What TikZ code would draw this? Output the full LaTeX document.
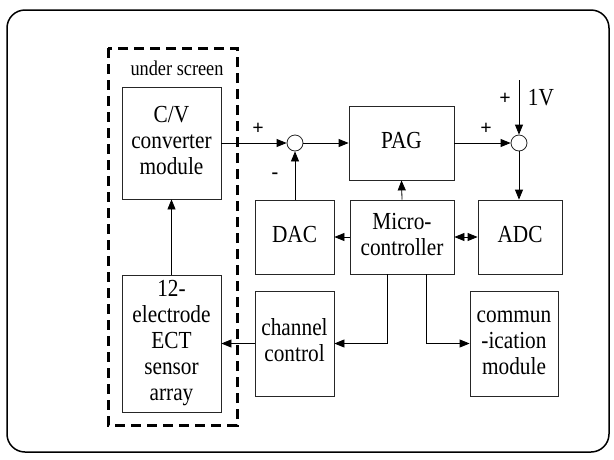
\documentclass[tikz,border=0pt]{standalone}
\usepackage{fontspec}
\setmainfont{Liberation Serif}
\usetikzlibrary{arrows.meta}
\newcommand\vtxt[1]{\scalebox{1}[1.15]{\fontsize{21.3}{22.6}\selectfont\begin{tabular}{@{}c@{}}#1\end{tabular}}}
\begin{document}
\begin{tikzpicture}[x=1pt,y=-1pt,
  blk/.style={draw=black!85,line width=0.8pt,align=center,inner sep=0pt},
  sumj/.style={draw=black!85,circle,line width=0.8pt,minimum size=16pt,inner sep=0pt},
  conn/.style={line width=0.8pt,-{Triangle[length=10pt,width=8pt]}},
  lbl/.style={font=\fontsize{20}{22}\selectfont\bfseries,inner sep=0pt}]
\useasboundingbox (0,0) rectangle (614,459);
\draw[line width=1.5pt,rounded corners=18pt] (7,10) rectangle (609,452);
\draw[line width=3pt,dash pattern=on 10pt off 6pt] (108,48) rectangle (237,425);
\node[inner sep=0pt] (us) at (177,68) {\scalebox{1}[1.15]{\fontsize{18.3}{20}\selectfont under screen}};
\node[blk,minimum width=99pt,minimum height=112pt] (cv) at (171.5,143) {\vtxt{C/V\\converter\\module}};
\node[blk,minimum width=99pt,minimum height=137pt] (el) at (171.5,343.5) {\vtxt{12-\\electrode\\ECT\\sensor\\array}};
\node[blk,minimum width=105pt,minimum height=74pt] (pag) at (401.5,143) {\vtxt{PAG}};
\node[blk,minimum width=79pt,minimum height=74pt] (dac) at (294.5,237) {\vtxt{DAC}};
\node[blk,minimum width=104pt,minimum height=74pt] (mc) at (402,237) {\vtxt{Micro-\\controller}};
\node[blk,minimum width=84pt,minimum height=74pt] (adc) at (520,237) {\vtxt{ADC}};
\node[blk,minimum width=79pt,minimum height=105pt] (ch) at (294.5,343.5) {\vtxt{channel\\control}};
\node[blk,minimum width=88pt,minimum height=105pt] (cm) at (514,343.5) {\vtxt{commun\\-ication\\module}};
\node[sumj] (s1) at (295,143) {};
\node[sumj] (s2) at (519,143) {};
\coordinate (vin) at (519,80);
\draw[conn] (cv.east) -- (s1.west);
\draw[conn] (s1.east) -- (pag.west);
\draw[conn] (pag.east) -- (s2.west);
\draw[conn] (vin) -- (s2.north);
\draw[conn] (s2.south) -- (s2.south |- adc.north);
\draw[conn] (s1.south |- dac.north) -- (s1.south);
\draw[conn] (mc.north) -- (pag.south);
\draw[conn] (mc.west) -- (dac.east);
\draw[line width=0.8pt,{Triangle[length=10pt,width=8pt]}-{Triangle[length=10pt,width=8pt]}] (mc.east) -- (adc.west);
\draw[conn] ([xshift=-15pt]mc.south) |- (ch.east);
\draw[conn] ([xshift=24pt]mc.south) |- (cm.west);
\draw[conn] (ch.west) -- (el.east);
\draw[conn] (el.north) -- (cv.south);
\node[lbl] (p1) at (258,129) {+};
\node[lbl] (m1) at (275,176) {-};
\node[lbl] (p2) at (486,129) {+};
\node[lbl] (p3) at (505,99) {+};
\node[inner sep=0pt] (v1) at (541,100) {\vtxt{1V}};
\end{tikzpicture}
\end{document}
